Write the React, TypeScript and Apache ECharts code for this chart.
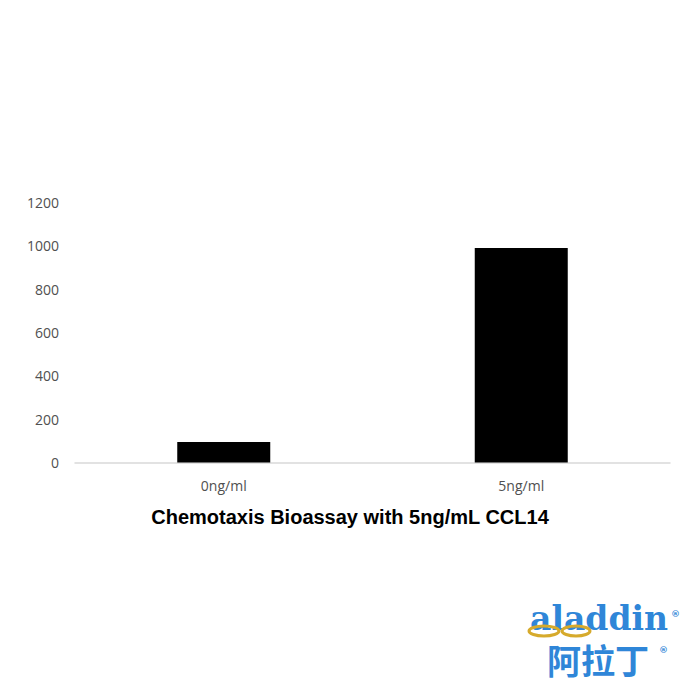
import { useEffect, useRef } from "react";
import * as echarts from "echarts";

const categories = ["0ng/ml", "5ng/ml"];
const values = [95, 990];
const yTicks = { min: 0, max: 1200, interval: 200 };
const chartTitle = "Chemotaxis Bioassay with 5ng/mL CCL14";

const LOGO_BLUE = "#2f86d8";
const LOGO_GOLD = "#d6aa2c";

export default function App() {
  const containerRef = useRef<HTMLDivElement | null>(null);

  useEffect(() => {
    if (!containerRef.current) {
      return;
    }

    const chart = echarts.init(containerRef.current, null, { renderer: "svg" });

    const option: echarts.EChartsOption = {
      animation: false,
      backgroundColor: "#ffffff",
      grid: {
        left: 75,
        right: 30,
        top: 202.5,
        bottom: 237.5,
      },
      title: {
        text: chartTitle,
        left: "center",
        top: 502,
        textStyle: {
          fontFamily: "'Liberation Sans', Arial, sans-serif",
          fontSize: 20,
          fontWeight: "bold",
          color: "#000000",
        },
      },
      xAxis: {
        type: "category",
        data: categories,
        axisTick: { show: false },
        axisLine: {
          lineStyle: { color: "#d9d9d9", width: 1.5 },
        },
        axisLabel: {
          color: "#505050",
          fontSize: 14,
          fontFamily: "'Open Sans', 'Noto Sans', sans-serif",
          margin: 16,
        },
      },
      yAxis: {
        type: "value",
        min: yTicks.min,
        max: yTicks.max,
        interval: yTicks.interval,
        axisLine: { show: false },
        axisTick: { show: false },
        splitLine: { show: false },
        axisLabel: {
          color: "#505050",
          fontSize: 14,
          fontFamily: "'Open Sans', 'Noto Sans', sans-serif",
          margin: 16,
          formatter: (value: number) => String(value),
        },
      },
      series: [
        {
          type: "bar",
          data: values,
          barWidth: 93,
          itemStyle: {
            color: "#000000",
          },
        },
      ],
      graphic: [
        {
          type: "text",
          left: 530,
          top: 602,
          style: {
            text: "aladdin",
            fill: LOGO_BLUE,
            font: "bold 33px 'DejaVu Serif', serif",
          },
          z: 9,
        },
        {
          type: "ellipse",
          shape: { cx: 544, cy: 631, rx: 15, ry: 5 },
          style: { fill: "none", stroke: LOGO_GOLD, lineWidth: 3 },
          z: 10,
        },
        {
          type: "ellipse",
          shape: { cx: 576, cy: 631, rx: 14, ry: 5 },
          style: { fill: "none", stroke: LOGO_GOLD, lineWidth: 3 },
          z: 10,
        },
        {
          type: "text",
          left: 671,
          top: 609,
          style: {
            text: "®",
            fill: LOGO_BLUE,
            font: "bold 9px 'DejaVu Sans', sans-serif",
          },
        },
        {
          type: "text",
          left: 547,
          top: 642,
          style: {
            text: "阿拉丁",
            fill: LOGO_BLUE,
            font: "bold 34px 'Noto Sans CJK SC', sans-serif",
          },
        },
        {
          type: "text",
          left: 659,
          top: 645,
          style: {
            text: "®",
            fill: LOGO_BLUE,
            font: "bold 9px 'DejaVu Sans', sans-serif",
          },
        },
      ],
    };

    chart.setOption(option);

    return () => {
      chart.dispose();
    };
  }, []);

  return (
    <div
      ref={containerRef}
      style={{ position: "fixed", left: 0, top: 0, width: 700, height: 700 }}
    />
  );
}
